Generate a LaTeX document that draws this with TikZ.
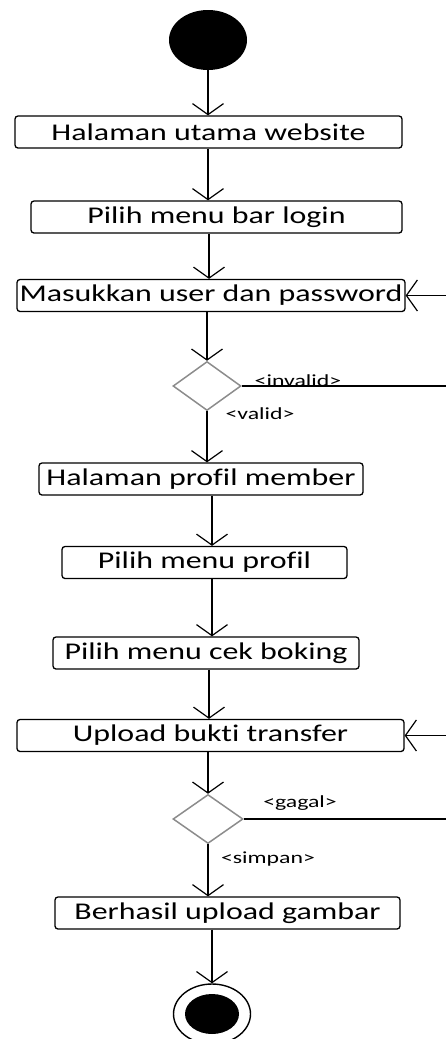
\documentclass[tikz,border=0pt]{standalone}
\usepackage{fontspec}
\setmainfont[FakeStretch=1.33,RawFeature=-liga]{Carlito}
\newfontfamily\guardfont[FakeStretch=1.4,RawFeature=-liga]{Carlito}
\usetikzlibrary{shapes.geometric,arrows.meta}

\begin{document}
\begin{tikzpicture}[x=1pt,y=-1pt]
  \tikzstyle{act}=[draw,rounded corners=3pt,line width=1.3pt,minimum height=32pt,inner sep=0pt,font=\fontsize{24}{26}\selectfont]
  \tikzstyle{choice}=[diamond,draw=black!45,line width=1.5pt,minimum width=68pt,minimum height=49pt,inner sep=0pt,aspect=1.4]
  \tikzstyle{flow}=[line width=1.2pt,-{Straight Barb[length=11pt,width=31pt,line width=1.2pt]}]
  \tikzstyle{guard}=[font=\guardfont\fontsize{17}{18}\selectfont,inner sep=0pt]
  \useasboundingbox (0,0) rectangle (446,1039);
% start and end
\node[ellipse,fill=black,minimum width=78pt,minimum height=60pt,inner sep=0pt] (start) at (208,40) {};
\node[ellipse,draw,line width=1.4pt,minimum width=77pt,minimum height=60pt,inner sep=0pt] (stop) at (212,1014) {};
\node[ellipse,fill=black,minimum width=54pt,minimum height=40pt,inner sep=0pt] at (stop) {};
% activities
\node[act,minimum width=387pt] (utama) at (208.5,132) {Halaman utama website};
\node[act,minimum width=371pt] (login) at (216.5,217) {Pilih menu bar login};
\node[act,minimum width=388pt] (masuk) at (211,295.5) {Masukkan user dan password};
\node[choice] (cek1) at (207,386) {};
\node[act,minimum width=324pt] (member) at (201,479) {Halaman profil member};
\node[act,minimum width=285pt] (profil) at (204.5,562.5) {Pilih menu profil};
\node[act,minimum width=306pt] (boking) at (206,653) {Pilih menu cek boking};
\node[act,minimum width=387pt] (upload) at (210.5,735.5) {Upload bukti transfer};
\node[choice,minimum width=70pt] (cek2) at (208,819) {};
\node[act,minimum width=345pt] (hasil) at (227.5,913) {Berhasil upload gambar};
% loop ends at the edge
\coordinate (back1) at (446,386);
\coordinate (in1) at (446,295.5);
\coordinate (back2) at (446,819);
\coordinate (in2) at (446,735.5);
% flows
\draw[flow] (start.south) -- (start.south |- utama.north);
\draw[flow] ([xshift=-0.5pt]utama.south) -- ([xshift=-0.5pt]utama.south |- login.north);
\draw[flow] ([xshift=-7.5pt]login.south) -- ([xshift=-7.5pt]login.south |- masuk.north);
\draw[flow] (masuk.south -| cek1) -- (cek1.north);
\draw[flow] (cek1.south) -- (cek1.south |- member.north);
\draw[flow] ([xshift=11pt]member.south) -- ([xshift=11pt]member.south |- profil.north);
\draw[flow] ([xshift=7.5pt]profil.south) -- ([xshift=7.5pt]profil.south |- boking.north);
\draw[flow] ([xshift=3pt]boking.south) -- ([xshift=3pt]boking.south |- upload.north);
\draw[flow] (upload.south -| cek2) -- (cek2.north);
\draw[flow] (cek2.south) -- (cek2.south |- hasil.north);
\draw[flow] (hasil.south -| stop) -- (stop.north);
\draw[line width=1.2pt] (cek1.east) -- (back1);
\draw[flow] (in1) -- (masuk.east);
\draw[line width=1.2pt] (cek2.east) -- (back2);
\draw[flow] (in2) -- (upload.east);
% guards
\node[guard] (inv) at (298,381) {<invalid>};
\node[guard] (val) at (260,414) {<valid>};
\node[guard] (gag) at (300,803) {<gagal>};
\node[guard] (sim) at (268,859) {<simpan>};
\end{tikzpicture}
\end{document}
